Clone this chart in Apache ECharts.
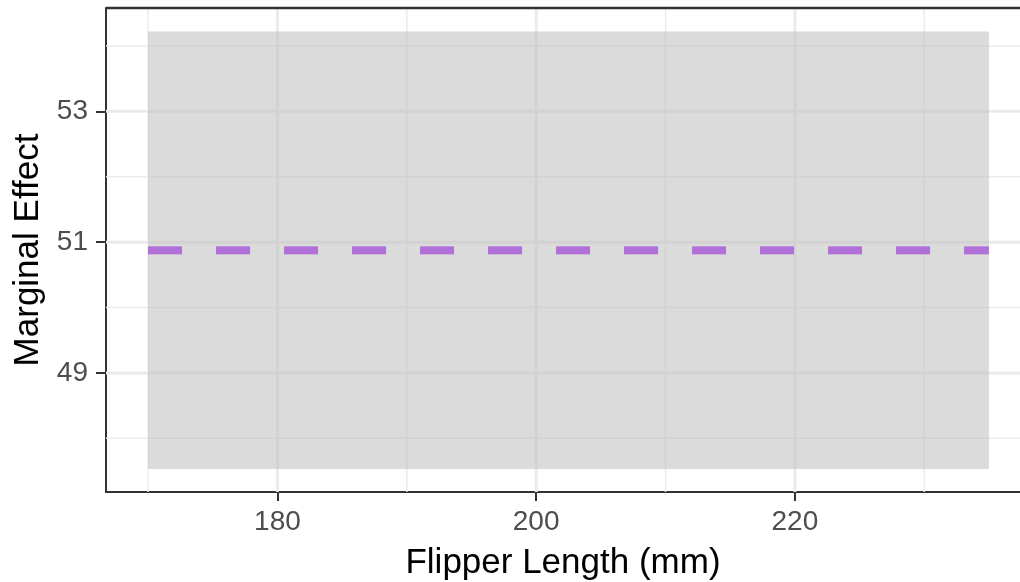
<!DOCTYPE html>
<html>
<head>
<meta charset="utf-8">
<script src="https://cdn.jsdelivr.net/npm/echarts@6/dist/echarts.min.js"></script>
<style>
  html, body { margin: 0; padding: 0; background: #fff; }
  #chart { width: 1020px; height: 582px; }
</style>
</head>
<body>
<div id="chart"></div>
<script>
// data
const flipperLength = [170, 235]
const effect = [50.875, 50.875]
const lowerBound = [47.53, 47.53]
const upperBound = [54.22, 54.22]

const xMajor = [180, 200, 220]
const xMinor = [170, 190, 210, 230]
const yMajor = [49, 51, 53]
const yMinor = [48, 50, 52, 54]

const xLimits = [166.75, 237.4]
const yLimits = [47.18, 54.58]

const font = 'Liberation Sans, Arial, Helvetica, sans-serif'
const chart = echarts.init(document.getElementById('chart'))

// panel grid lines as plain line series, drawn under the band
function gridSeries(values, vertical, width) {
  return values.map(v => ({
    type: 'line',
    silent: true,
    symbol: 'none',
    z: 1,
    lineStyle: { color: '#ebebeb', width: width },
    data: vertical
      ? [[v, yLimits[0]], [v, yLimits[1]]]
      : [[xLimits[0], v], [xLimits[1], v]],
  }))
}

// confidence band as a polygon: upper edge left to right, lower edge back
function renderBand(params, api) {
  if (params.dataIndex !== 0) return
  const pts = []
  for (let i = 0; i < flipperLength.length; i++) {
    pts.push(api.coord([flipperLength[i], upperBound[i]]))
  }
  for (let i = flipperLength.length - 1; i >= 0; i--) {
    pts.push(api.coord([flipperLength[i], lowerBound[i]]))
  }
  return {
    type: 'polygon',
    shape: { points: pts },
    style: { fill: 'rgba(190,190,190,0.55)' },
  }
}

const option = {
  animation: false,
  backgroundColor: '#ffffff',
  grid: { left: 106, right: 0, top: 8, bottom: 90, outerBoundsMode: 'none', containLabel: false },
  xAxis: {
    type: 'value',
    min: xLimits[0],
    max: xLimits[1],
    name: 'Flipper Length (mm)',
    nameLocation: 'middle',
    nameGap: 54,
    nameTextStyle: { fontFamily: font, fontSize: 35, color: '#000' },
    axisLine: { show: true, lineStyle: { color: '#333', width: 2 } },
    axisTick: { show: true, customValues: xMajor, length: 9, lineStyle: { color: '#333', width: 2 } },
    axisLabel: { customValues: xMajor, margin: 16, fontFamily: font, fontSize: 28, color: '#4d4d4d' },
    splitLine: { show: false },
  },
  yAxis: {
    type: 'value',
    min: yLimits[0],
    max: yLimits[1],
    name: 'Marginal Effect',
    nameLocation: 'middle',
    nameGap: 59,
    nameRotate: 90,
    nameTextStyle: { fontFamily: font, fontSize: 35, color: '#000' },
    axisLine: { show: true, lineStyle: { color: '#333', width: 2 } },
    axisTick: { show: true, customValues: yMajor, length: 10, lineStyle: { color: '#333', width: 2 } },
    axisLabel: { customValues: yMajor, margin: 18, fontFamily: font, fontSize: 28, color: '#4d4d4d' },
    splitLine: { show: false },
  },
  graphic: [
    {
      type: 'line',
      shape: { x1: 106, y1: 8, x2: 1020, y2: 8 },
      style: { stroke: '#333', lineWidth: 2.5 },
      z: 10,
    },
  ],
  series: [
    ...gridSeries(xMinor, true, 1.5),
    ...gridSeries(yMinor, false, 1.5),
    ...gridSeries(xMajor, true, 3),
    ...gridSeries(yMajor, false, 3),
    {
      name: 'band',
      type: 'custom',
      renderItem: renderBand,
      data: flipperLength.map((x, i) => [x, lowerBound[i], upperBound[i]]),
      encode: { x: 0, y: [1, 2] },
      z: 3,
    },
    {
      name: 'effect',
      type: 'line',
      symbol: 'none',
      lineStyle: { color: '#b070d8', width: 8, type: [34, 34], cap: 'butt' },
      data: flipperLength.map((x, i) => [x, effect[i]]),
      z: 4,
    },
  ],
}
chart.setOption(option)
</script>
</body>
</html>
